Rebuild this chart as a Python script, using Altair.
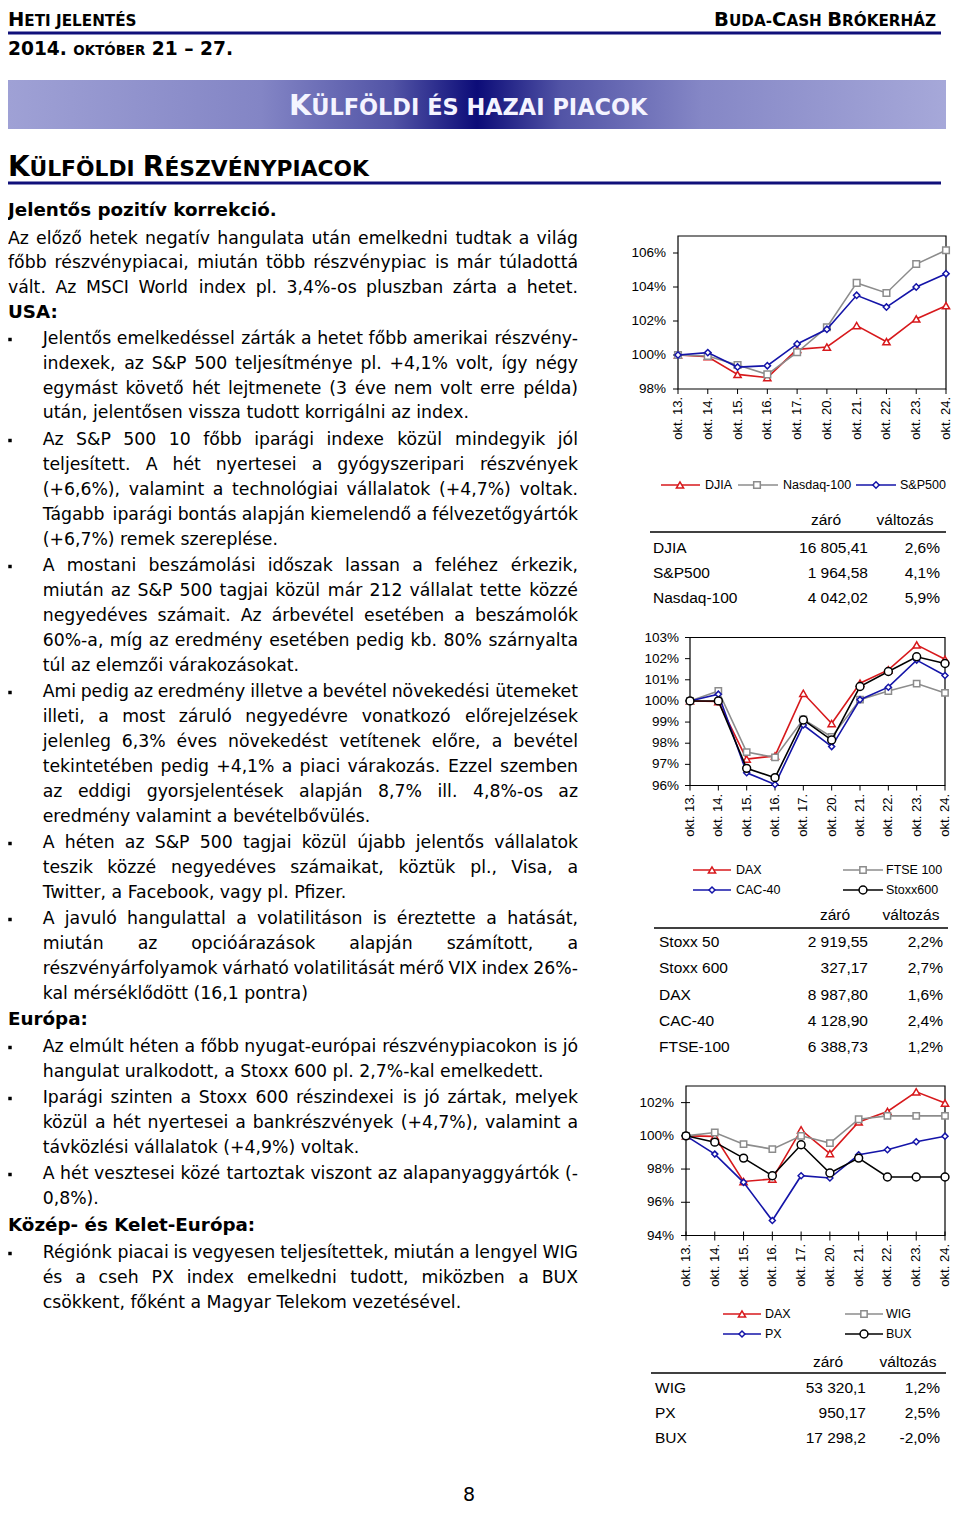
import unicodedata
import altair as alt
import pandas as pd

# ---------------- data ----------------
DAYS = ["okt. 13.", "okt. 14.", "okt. 15.", "okt. 16.", "okt. 17.",
        "okt. 20.", "okt. 21.", "okt. 22.", "okt. 23.", "okt. 24."]

# USA (index, okt. 13. = 100%)
DJIA = [100.0, 99.9, 98.86, 98.67, 100.33, 100.47, 101.73, 100.78, 102.12, 102.9]
NASDAQ100 = [100.0, 99.94, 99.41, 98.86, 100.16, 101.63, 104.24, 103.65, 105.35, 106.16]
SP500 = [100.0, 100.14, 99.29, 99.37, 100.65, 101.51, 103.51, 102.82, 104.0, 104.78]
US_TICKS = [98, 100, 102, 104, 106]

# Europe
DAX = [100.0, 99.97, 97.25, 97.4, 100.36, 98.93, 100.84, 101.47, 102.65, 101.97]
FTSE100 = [100.0, 100.47, 97.58, 97.33, 99.13, 98.3, 100.06, 100.47, 100.82, 100.38]
CAC40 = [100.0, 100.32, 96.6, 96.05, 98.86, 97.84, 100.06, 100.65, 101.93, 101.2]
STOXX600 = [100.0, 100.0, 96.81, 96.37, 99.1, 98.15, 100.68, 101.39, 102.09, 101.77]
EU_TICKS = [96, 97, 98, 99, 100, 101, 102, 103]

# Central & Eastern Europe
WIG = [100.0, 100.2, 99.5, 99.2, 100.0, 99.56, 101.0, 101.2, 101.2, 101.2]
PX = [100.0, 98.9, 97.2, 94.9, 97.6, 97.46, 98.86, 99.16, 99.64, 99.98]
BUX = [100.0, 99.62, 98.66, 97.6, 99.46, 97.76, 98.66, 97.52, 97.52, 97.52]
CEE_TICKS = [94, 96, 98, 100, 102]

# tables
US_NAMES = ["DJIA", "S&P500", "Nasdaq-100"]
US_CLOSE = [16805.41, 1964.58, 4042.02]
US_DEC = [2, 2, 2]
US_CHG = [2.6, 4.1, 5.9]

EU_NAMES = ["Stoxx 50", "Stoxx 600", "DAX", "CAC-40", "FTSE-100"]
EU_CLOSE = [2919.55, 327.17, 8987.80, 4128.90, 6388.73]
EU_DEC = [2, 2, 2, 2, 2]
EU_CHG = [2.2, 2.7, 1.6, 2.4, 1.2]

CEE_NAMES = ["WIG", "PX", "BUX"]
CEE_CLOSE = [53320.1, 950.17, 17298.2]
CEE_DEC = [1, 2, 1]
CEE_CHG = [1.2, 2.5, -2.0]

SERIES = ["DJIA", "Nasdaq-100", "S&P500", "DAX", "FTSE 100", "CAC-40",
          "Stoxx600", "WIG", "PX", "BUX"]
RED, GRAY, BLUE, BLACK = "#d7191c", "#8c8c8c", "#1414a8", "#000000"
SERIES_COLORS = [RED, GRAY, BLUE, RED, GRAY, BLUE, BLACK, GRAY, BLUE, BLACK]
SHAPES = {"DJIA": "triangle-up", "Nasdaq-100": "square", "S&P500": "diamond",
          "DAX": "triangle-up", "FTSE 100": "square", "CAC-40": "diamond",
          "Stoxx600": "circle", "WIG": "square", "PX": "diamond", "BUX": "circle"}
STROKE_SCALE = alt.Scale(domain=SERIES, range=SERIES_COLORS)

# ---------------- page text ----------------
# (indent, bullet, justified, bold, text, line-centre y)
LINES = [
    (0, 0, 0, 1, "Jelentős pozitív korrekció.", 210),
    (0, 0, 1, 0, "Az előző hetek negatív hangulata után emelkedni tudtak a világ", 238),
    (0, 0, 1, 0, "főbb részvénypiacai, miután több részvénypiac is már túladottá", 262),
    (0, 0, 1, 0, "vált. Az MSCI World index pl. 3,4%-os pluszban zárta a hetet.", 287),
    (0, 0, 0, 1, "USA:", 312),
    (1, 1, 1, 0, "Jelentős emelkedéssel zárták a hetet főbb amerikai részvény-", 338),
    (1, 0, 1, 0, "indexek, az S&P 500 teljesítménye pl. +4,1% volt, így négy", 363),
    (1, 0, 1, 0, "egymást követő hét lejtmenete (3 éve nem volt erre példa)", 388),
    (1, 0, 0, 0, "után, jelentősen vissza tudott korrigálni az index.", 412),
    (1, 1, 1, 0, "Az S&P 500 10 főbb iparági indexe közül mindegyik jól", 439),
    (1, 0, 1, 0, "teljesített. A hét nyertesei a gyógyszeripari részvények", 464),
    (1, 0, 1, 0, "(+6,6%), valamint a technológiai vállalatok (+4,7%) voltak.", 489),
    (1, 0, 1, 0, "Tágabb iparági bontás alapján kiemelendő a félvezetőgyártók", 514),
    (1, 0, 0, 0, "(+6,7%) remek szereplése.", 539),
    (1, 1, 1, 0, "A mostani beszámolási időszak lassan a feléhez érkezik,", 565),
    (1, 0, 1, 0, "miután az S&P 500 tagjai közül már 212 vállalat tette közzé", 590),
    (1, 0, 1, 0, "negyedéves számait. Az árbevétel esetében a beszámolók", 615),
    (1, 0, 1, 0, "60%-a, míg az eredmény esetében pedig kb. 80% szárnyalta", 640),
    (1, 0, 0, 0, "túl az elemzői várakozásokat.", 665),
    (1, 1, 1, 0, "Ami pedig az eredmény illetve a bevétel növekedési ütemeket", 691),
    (1, 0, 1, 0, "illeti, a most záruló negyedévre vonatkozó előrejelzések", 716),
    (1, 0, 1, 0, "jelenleg 6,3% éves növekedést vetítenek előre, a bevétel", 741),
    (1, 0, 1, 0, "tekintetében pedig +4,1% a piaci várakozás. Ezzel szemben", 766),
    (1, 0, 1, 0, "az eddigi gyorsjelentések alapján 8,7% ill. 4,8%-os az", 791),
    (1, 0, 0, 0, "eredmény valamint a bevételbővülés.", 816),
    (1, 1, 1, 0, "A héten az S&P 500 tagjai közül újabb jelentős vállalatok", 842),
    (1, 0, 1, 0, "teszik közzé negyedéves számaikat, köztük pl., Visa, a", 867),
    (1, 0, 0, 0, "Twitter, a Facebook, vagy pl. Pfizer.", 892),
    (1, 1, 1, 0, "A javuló hangulattal a volatilitáson is éreztette a hatását,", 918),
    (1, 0, 1, 0, "miután az opcióárazások alapján számított, a", 943),
    (1, 0, 1, 0, "részvényárfolyamok várható volatilitását mérő VIX index 26%-", 968),
    (1, 0, 0, 0, "kal mérséklődött (16,1 pontra)", 993),
    (0, 0, 0, 1, "Európa:", 1019),
    (1, 1, 1, 0, "Az elmúlt héten a főbb nyugat-európai részvénypiacokon is jó", 1046),
    (1, 0, 0, 0, "hangulat uralkodott, a Stoxx 600 pl. 2,7%-kal emelkedett.", 1071),
    (1, 1, 1, 0, "Iparági szinten a Stoxx 600 részindexei is jó zártak, melyek", 1097),
    (1, 0, 1, 0, "közül a hét nyertesei a bankrészvények (+4,7%), valamint a", 1122),
    (1, 0, 0, 0, "távközlési vállalatok (+4,9%) voltak.", 1147),
    (1, 1, 1, 0, "A hét vesztesei közé tartoztak viszont az alapanyaggyártók (-", 1173),
    (1, 0, 0, 0, "0,8%).", 1198),
    (0, 0, 0, 1, "Közép- és Kelet-Európa:", 1225),
    (1, 1, 1, 0, "Régiónk piacai is vegyesen teljesítettek, miután a lengyel WIG", 1252),
    (1, 0, 1, 0, "és a cseh PX index emelkedni tudott, miközben a BUX", 1277),
    (1, 0, 0, 0, "csökkent, főként a Magyar Telekom vezetésével.", 1302),
]

# ---------------- layout helpers ----------------
W, H = 944, 1500
BODY_FONT = "DejaVu Sans"
SANS = "Liberation Sans, Arial, sans-serif"


def cx(x):          # right column / general
    return x - 10


def cxl(x):         # left text column (squeezed so it starts at the page margin)
    return (x - 3) * 570.0 / 575.0


def cy(y):
    return y - 8


REG = {' ': 651, '%': 1946, '&': 1597, '(': 799, ')': 799, '+': 1716, ',': 651,
       '-': 739, '.': 651, ':': 690, '–': 1024,
       'A': 1401, 'B': 1405, 'C': 1430, 'D': 1577, 'E': 1294, 'F': 1178, 'G': 1587,
       'H': 1540, 'I': 604, 'J': 604, 'K': 1343, 'L': 1141, 'M': 1767, 'N': 1532,
       'O': 1612, 'P': 1235, 'Q': 1612, 'R': 1423, 'S': 1300, 'T': 1251, 'U': 1499,
       'V': 1401, 'W': 2025, 'X': 1403, 'Y': 1251, 'Z': 1403,
       'a': 1255, 'b': 1300, 'c': 1126, 'd': 1300, 'e': 1260, 'f': 721, 'g': 1300,
       'h': 1298, 'i': 569, 'j': 569, 'k': 1186, 'l': 569, 'm': 1995, 'n': 1298,
       'o': 1253, 'p': 1300, 'q': 1300, 'r': 842, 's': 1067, 't': 803, 'u': 1298,
       'v': 1212, 'w': 1675, 'x': 1212, 'y': 1212, 'z': 1075}
for d in "0123456789":
    REG[d] = 1303
BOLD = {' ': 713, '%': 2052, '(': 934, ')': 934, ',': 780, '-': 852, '.': 780,
        ':': 819, '–': 1024,
        'A': 1585, 'B': 1568, 'C': 1509, 'D': 1700, 'E': 1399, 'F': 1399, 'G': 1681,
        'H': 1714, 'I': 762, 'J': 762, 'K': 1577, 'L': 1331, 'M': 2005, 'N': 1714,
        'O': 1741, 'P': 1501, 'Q': 1741, 'R': 1579, 'S': 1473, 'T': 1403, 'U': 1667,
        'V': 1585, 'W': 2208, 'X': 1583, 'Y': 1483, 'Z': 1475}
for d in "0123456789":
    BOLD[d] = 1425


def base_char(c):
    d = unicodedata.normalize("NFD", c)
    return d[0] if d else c


def tw(s, size, bold=False):
    tbl = BOLD if bold else REG
    return sum(tbl.get(base_char(c), 1250) for c in s) * size / 2048.0


texts = {}


def put(key, X, Y, t, size, col="#000000"):
    texts.setdefault(key, []).append({"x": X, "y": Y, "t": t, "size": size, "col": col})


HB = ("DejaVu Sans", "bold", "left", "alphabetic")


def smallcaps(segs, X0, X1, base, ratio, col="#000000", size=None, anchor="left"):
    unit = sum(tw(t, 1.0, True) * (1.0 if big else ratio) for t, big in segs)
    S = size if size else (X1 - X0) / unit
    x = X0 if anchor == "left" else X1 - unit * S
    for t, big in segs:
        s = S if big else S * ratio
        lead = len(t) - len(t.lstrip(" "))
        xx = x + tw(" " * lead, s, True)
        if t.strip():
            put(HB, xx, base, t.strip(), s, col)
        x += tw(t, s, True)


# header
HEAD_BASE = 18
smallcaps([("H", 1), ("ETI JELENTÉS", 0)], cxl(3), cxl(142), HEAD_BASE, 0.78, size=19.5)
smallcaps([("B", 1), ("UDA-", 0), ("C", 1), ("ASH ", 0), ("B", 1), ("RÓKERHÁZ", 0)],
          cx(723), cx(938), HEAD_BASE, 0.78, size=19.5, anchor="right")
smallcaps([("2014. ", 1), ("OKTÓBER", 0), (" 21 – 27.", 1)], cxl(3), cxl(230), cy(55), 0.72)
smallcaps([("K", 1), ("ÜLFÖLDI ÉS HAZAI PIACOK", 0)], cx(291), cx(650), cy(115), 0.78, "#f4f4ff")
smallcaps([("K", 1), ("ÜLFÖLDI ", 0), ("R", 1), ("ÉSZVÉNYPIACOK", 0)], cxl(3), cxl(367), cy(176), 0.78)

# body text
FS = 17.3
FSB = 18.3
RIGHT = 578
REG_L = (BODY_FONT, "normal", "left", "alphabetic")
REG_R = (BODY_FONT, "normal", "right", "alphabetic")
BOLD_L = (BODY_FONT, "bold", "left", "alphabetic")
bullets = []
for indent, bullet, just, bold, line, yc in LINES:
    base = cy(yc + 6)
    left = cxl(38 if indent else 3)
    right = cxl(RIGHT)
    if bullet:
        bullets.append({"x": 2.0, "y": cy(yc + 1.5)})
    if bold:
        put(BOLD_L, left, base, line, FSB)
        continue
    words = line.split()
    if not just or len(words) < 2:
        put(REG_L, left, base, line, FS)
        continue
    widths = [tw(w, FS) for w in words]
    gap = (right - left - sum(widths)) / (len(words) - 1)
    x = left
    for k, w in enumerate(words[:-1]):
        put(REG_L, x, base, w, FS)
        x += widths[k] + gap
    put(REG_R, right, base, words[-1], FS)

# table headers
TH = (SANS, "normal", "center", "middle")
for (xz, xv, yh) in [(828, 907, 520), (837, 913, 915), (830, 910, 1362)]:
    put(TH, cx(xz), cy(yh), "záró", 15.5)
    put(TH, cx(xv), cy(yh), "változás", 15.5)

# page number
put((BODY_FONT, "normal", "center", "alphabetic"), cx(471), H - 7, "8", 19)

RULES = [  # (x0, x1, y, width, colour) in canvas pixels
    (cxl(3), cx(943), 25, 3.2, "#10107a"),
    (cxl(3), cx(943), cy(183), 3.0, "#10107a"),
    (cx(652), cx(948), cy(532), 1.5, "#000000"),
    (cx(656), cx(950), cy(928), 1.5, "#000000"),
    (cx(653), cx(948), cy(1373), 1.5, "#000000"),
]

layers = []

banner = alt.Chart(pd.DataFrame({"a": [0]})).mark_rect(
    fill=alt.LinearGradient(
        gradient="linear", x1=0, x2=1, y1=0, y2=0,
        stops=[alt.GradientStop(color="#9fa1d5", offset=0),
               alt.GradientStop(color="#8385c5", offset=0.27),
               alt.GradientStop(color="#5254a6", offset=0.41),
               alt.GradientStop(color="#0c0c78", offset=0.5),
               alt.GradientStop(color="#5254a6", offset=0.59),
               alt.GradientStop(color="#8587c6", offset=0.74),
               alt.GradientStop(color="#a6a8d9", offset=1)])
).encode(x=alt.value(cxl(3)), x2=alt.value(cx(948)), y=alt.value(cy(80)), y2=alt.value(cy(129)))
layers.append(banner)

rdf = pd.DataFrame([{"x": a, "x2": b, "y": y, "y2": y, "w": w, "col": c} for a, b, y, w, c in RULES])
layers.append(alt.Chart(rdf).mark_rule().encode(
    x=alt.X("x:Q", scale=None, axis=None), x2="x2:Q",
    y=alt.Y("y:Q", scale=None, axis=None), y2="y2:Q",
    color=alt.Color("col:N", scale=None, legend=None),
    strokeWidth=alt.StrokeWidth("w:Q", scale=None, legend=None)))

layers.append(alt.Chart(pd.DataFrame(bullets)).mark_square(size=12, color="black", opacity=1).encode(
    x=alt.X("x:Q", scale=None, axis=None), y=alt.Y("y:Q", scale=None, axis=None)))

for (font, weight, align, baseline), items in texts.items():
    layers.append(alt.Chart(pd.DataFrame(items)).mark_text(
        font=font, fontWeight=weight, align=align, baseline=baseline).encode(
        x=alt.X("x:Q", scale=None, axis=None), y=alt.Y("y:Q", scale=None, axis=None),
        text="t:N", size=alt.Size("size:Q", scale=None, legend=None),
        color=alt.Color("col:N", scale=None, legend=None)))


def panel(names, vals, dom, ticks, x0, x9, ybot, ytop, lab_right, xlab_top, sizes, cross):
    xs = alt.Scale(domain=[0, 9], range=[cx(x0), cx(x9)], nice=False, zero=False)
    ys = alt.Scale(domain=dom, range=[cy(ybot), cy(ytop)], nice=False, zero=False)
    X = alt.X("i:Q", scale=xs, axis=None)
    Y = alt.Y("v:Q", scale=ys, axis=None)
    frame = alt.Chart(pd.DataFrame({"i": [0], "i2": [9], "v": [dom[0]], "v2": [dom[1]]})).mark_rect(
        fillOpacity=0, stroke="black", strokeWidth=1.2).encode(x=X, x2="i2:Q", y=Y, y2="v2:Q")
    tdf = pd.DataFrame({"v": ticks, "lab": [f"{t}%" for t in ticks]})
    ax0 = cx(x0)
    ytk = alt.Chart(tdf).mark_rule(color="black", strokeWidth=1).encode(
        x=alt.value(ax0 - 5), x2=alt.value(ax0 + (4 if cross else 0)), y=Y)
    ytl = alt.Chart(tdf).mark_text(align="right", baseline="middle", font=SANS, fontSize=13.5).encode(
        x=alt.value(cx(lab_right)), y=Y, text="lab:N")
    xdf = pd.DataFrame({"i": list(range(len(DAYS))), "lab": DAYS})
    yb = cy(ybot)
    xtk = alt.Chart(xdf).mark_rule(color="black", strokeWidth=1).encode(
        x=X, y=alt.value(yb - (4 if cross else 0)), y2=alt.value(yb + 5))
    xtl = alt.Chart(xdf).mark_text(angle=270, align="right", baseline="middle", font=SANS,
                                   fontSize=13).encode(x=X, y=alt.value(cy(xlab_top)), text="lab:N")
    out = [frame, ytk, ytl, xtk, xtl]
    rows = [{"i": i, "v": v, "s": n} for n, vv in zip(names, vals) for i, v in enumerate(vv)]
    df = pd.DataFrame(rows)
    S = alt.Stroke("s:N", scale=STROKE_SCALE, legend=None)
    for n in names:
        sub = df[df.s == n]
        out.append(alt.Chart(sub).mark_line(strokeWidth=1.6).encode(x=X, y=Y, stroke=S))
        out.append(alt.Chart(sub).mark_point(shape=SHAPES[n], size=sizes[SHAPES[n]], filled=False,
                                             fill="white", fillOpacity=1, opacity=1,
                                             strokeWidth=1.5).encode(x=X, y=Y, stroke=S))
    return alt.layer(*out)


def legend(entries, sizes):
    df = pd.DataFrame([{"s": s, "x0": cx(a), "x1": cx(b), "xm": cx(m), "xt": cx(t), "y": cy(y)}
                       for s, a, b, m, t, y in entries])
    S = alt.Stroke("s:N", scale=STROKE_SCALE, legend=None)
    YN = alt.Y("y:Q", scale=None, axis=None)
    out = [alt.Chart(df).mark_rule(strokeWidth=1.5).encode(
        x=alt.X("x0:Q", scale=None, axis=None), x2="x1:Q", y=YN, stroke=S)]
    for s in df.s:
        out.append(alt.Chart(df[df.s == s]).mark_point(shape=SHAPES[s], size=sizes[SHAPES[s]], filled=False,
                                                       fill="white", fillOpacity=1, opacity=1,
                                                       strokeWidth=1.5).encode(
            x=alt.X("xm:Q", scale=None, axis=None), y=YN, stroke=S))
    out.append(alt.Chart(df).mark_text(align="left", baseline="middle", font=SANS, fontSize=12.5).encode(
        x=alt.X("xt:Q", scale=None, axis=None), y=YN, text="s:N"))
    return alt.layer(*out)


def hu(v, d):
    return f"{v:,.{d}f}".replace(",", " ").replace(".", ",")


def table(names, closes, decs, chgs, y0, step, xn, xc, xg):
    n = len(names)
    df = pd.DataFrame({"r": list(range(n)), "name": names,
                       "close": [hu(v, d) for v, d in zip(closes, decs)],
                       "chg": [hu(c, 1) + "%" for c in chgs]})
    Y = alt.Y("r:Q", scale=alt.Scale(domain=[0, n - 1], range=[cy(y0), cy(y0 + step * (n - 1))],
                                     nice=False, zero=False), axis=None)
    base = alt.Chart(df)
    kw = dict(baseline="middle", font=SANS, fontSize=15.5)
    return alt.layer(
        base.mark_text(align="left", **kw).encode(x=alt.value(cx(xn)), y=Y, text="name:N"),
        base.mark_text(align="right", **kw).encode(x=alt.value(cx(xc)), y=Y, text="close:N"),
        base.mark_text(align="right", **kw).encode(x=alt.value(cx(xg)), y=Y, text="chg:N"),
    )


SZ1 = {"triangle-up": 52, "square": 44, "diamond": 40, "circle": 60}
SZ2 = {"triangle-up": 52, "square": 40, "diamond": 36, "circle": 62}

layers.append(panel(["DJIA", "Nasdaq-100", "S&P500"], [DJIA, NASDAQ100, SP500], [98, 107], US_TICKS,
                    680, 948, 389, 236, 668, 397, SZ1, False))
layers.append(panel(["DAX", "FTSE 100", "CAC-40", "Stoxx600"], [DAX, FTSE100, CAC40, STOXX600],
                    [96, 103], EU_TICKS, 692, 947, 785.5, 637.5, 681, 794, SZ2, False))
layers.append(panel(["DAX", "WIG", "PX", "BUX"], [DAX, WIG, PX, BUX], [94, 103], CEE_TICKS,
                    688, 947, 1235.5, 1086, 676, 1244, SZ2, True))

layers.append(legend([("DJIA", 663, 702, 682, 707, 485), ("Nasdaq-100", 740, 780, 759, 785, 485),
                      ("S&P500", 858, 898, 878, 902, 485)], SZ1))
layers.append(legend([("DAX", 695, 733, 714, 738, 870), ("FTSE 100", 845, 885, 865, 888, 870),
                      ("CAC-40", 695, 733, 714, 738, 890), ("Stoxx600", 845, 885, 865, 888, 890)], SZ2))
layers.append(legend([("DAX", 725, 763, 744, 767, 1314), ("WIG", 847, 885, 866, 888, 1314),
                      ("PX", 725, 763, 744, 767, 1334), ("BUX", 847, 885, 866, 888, 1334)], SZ2))

layers.append(table(US_NAMES, US_CLOSE, US_DEC, US_CHG, 548, 25, 655, 870, 942))
layers.append(table(EU_NAMES, EU_CLOSE, EU_DEC, EU_CHG, 942, 26.25, 661, 870, 945))
layers.append(table(CEE_NAMES, CEE_CLOSE, CEE_DEC, CEE_CHG, 1388, 25, 657, 868, 942))

chart = alt.layer(*layers).resolve_scale(x="independent", y="independent").properties(
    width=W, height=H, autosize=alt.AutoSizeParams(type="none"),
    padding={"left": 0, "top": 0, "right": 0, "bottom": 0},
).configure_view(stroke=None)

chart.save("out.html", embed_options={"renderer": "svg", "actions": False})
